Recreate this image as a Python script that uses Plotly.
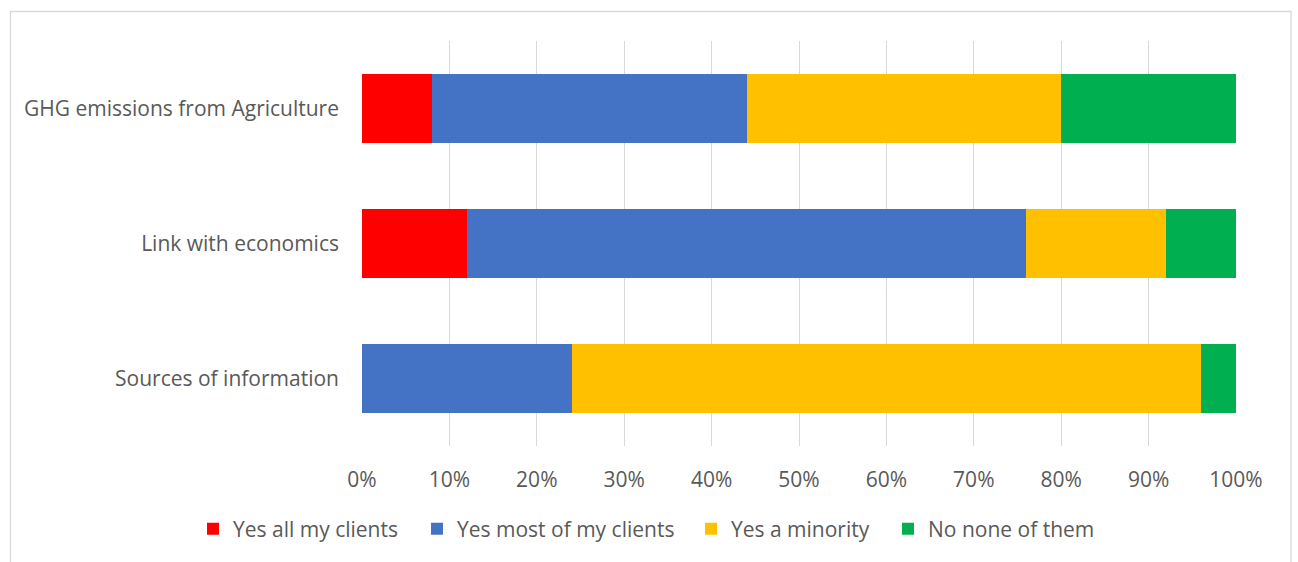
import plotly.graph_objects as go

# Survey topics (top to bottom) and share of respondents per answer
topics = ["GHG emissions from Agriculture", "Link with economics", "Sources of information"]
series_names = ["Yes all my clients", "Yes most of my clients", "Yes a minority", "No none of them"]
yes_all = [0.08, 0.12, 0.00]
yes_most = [0.36, 0.64, 0.24]
yes_minority = [0.36, 0.16, 0.72]
no_none = [0.20, 0.08, 0.04]
tick_values = [0, 0.1, 0.2, 0.3, 0.4, 0.5, 0.6, 0.7, 0.8, 0.9, 1.0]
tick_labels = ["0%", "10%", "20%", "30%", "40%", "50%", "60%", "70%", "80%", "90%", "100%"]

colors = ["#FF0000", "#4472C4", "#FFC000", "#00B050"]
values = [yes_all, yes_most, yes_minority, no_none]

W, H = 1298, 562
L, R, T, B = 362, 62, 41, 116
FONT = "Open Sans"
FS = 21
TXT = "#595959"

# left edge (px) of each legend entry's text
legend_text_x = [235, 459, 733, 930]
legend_ids = ["legend", "legend2", "legend3", "legend4"]

fig = go.Figure()
for name, vals, col, lg in zip(series_names, values, colors, legend_ids):
    fig.add_trace(go.Bar(
        y=topics, x=vals, name=name, orientation="h",
        marker=dict(color=col, line=dict(width=0)),
        width=0.51, legend=lg,
    ))

# outer chart frame, expressed in paper coordinates of the plot area
pw, ph = W - L - R, H - T - B
def px_x(p):
    return (p - L) / pw
def px_y(p):
    return (H - B - p) / ph

fig.add_shape(type="rect", xref="paper", yref="paper",
              x0=px_x(10.5), x1=px_x(1291), y0=px_y(590), y1=px_y(11.5),
              line=dict(color="#D9D9D9", width=1.3), fillcolor="rgba(0,0,0,0)", layer="below")

legend_style = dict(orientation="h", xref="container", xanchor="left",
                    yref="container", y=0.0585, yanchor="middle",
                    font=dict(family=FONT, size=FS, color=TXT),
                    itemwidth=30, bgcolor="rgba(0,0,0,0)", borderwidth=0)
legend_layout = {lg: dict(legend_style, x=(tx - 42) / W)
                 for lg, tx in zip(legend_ids, legend_text_x)}

fig.update_layout(
    width=W, height=H,
    margin=dict(l=L, r=R, t=T, b=B, pad=0, autoexpand=False),
    barmode="stack",
    plot_bgcolor="white", paper_bgcolor="white",
    font=dict(family=FONT, size=FS, color=TXT),
    showlegend=True,
    xaxis=dict(range=[0, 1], tickvals=tick_values, ticktext=tick_labels,
               showgrid=True, gridcolor="#D9D9D9", gridwidth=1.3,
               zeroline=False, showline=False, ticks="",
               ticklabelstandoff=19, fixedrange=True),
    yaxis=dict(categoryorder="array", categoryarray=topics[::-1],
               showgrid=False, zeroline=False, showline=False, ticks="",
               ticklabelstandoff=22, fixedrange=True),
    **legend_layout,
)

fig.write_html("out.html")
